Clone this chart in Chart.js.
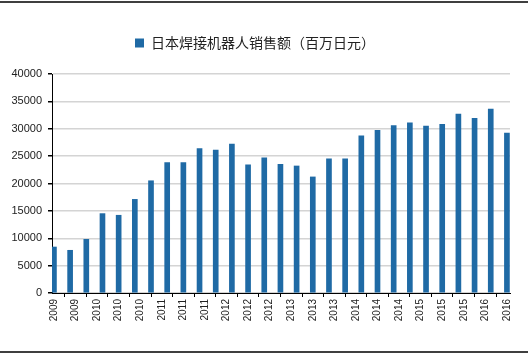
<!DOCTYPE html>
<html>
<head>
<meta charset="utf-8">
<script src="https://cdn.jsdelivr.net/npm/chart.js@4.4.0/dist/chart.umd.min.js"></script>
<style>
  body { margin: 0; background: #fff; }
  #wrap { width: 528px; height: 354px; position: relative; }
</style>
</head>
<body>
<div id="wrap"><canvas id="salesChart" width="528" height="354"></canvas></div>
<script>
// quarterly sales, 2009 - 2016 (29 quarters)
const sales = [8400, 7800, 9800, 14500, 14200, 17100, 20500, 23800, 23800, 26400,
  26100, 27200, 23400, 24700, 23500, 23200, 21200, 24500, 24500, 28700,
  29700, 30600, 31100, 30500, 30800, 32700, 31900, 33600, 29200];

// x-axis labels (every 4 months on the original date axis)
const tickLabels = ['2009', '2009', '2010', '2010', '2010', '2011', '2011', '2011',
  '2012', '2012', '2012', '2013', '2013', '2013', '2014', '2014', '2014',
  '2015', '2015', '2015', '2016', '2016'];

const seriesName = '日本焊接机器人销售额（百万日元）';
const barColor = '#1f6aa5';

const points = sales.map((v, i) => ({ x: i, y: v }));
const tickStep = (sales.length - 1) / (tickLabels.length - 1);

// top and bottom rules of the page
const frameLines = {
  id: 'frameLines',
  afterDraw(chart) {
    const ctx = chart.ctx;
    ctx.save();
    ctx.strokeStyle = '#000';
    ctx.lineWidth = 1.5;
    ctx.beginPath();
    ctx.moveTo(0, 2); ctx.lineTo(528, 2);
    ctx.moveTo(0, 352); ctx.lineTo(528, 352);
    ctx.stroke();
    ctx.restore();
  }
};

// extra gap under the legend
const legendGap = {
  id: 'legendGap',
  beforeUpdate(chart) {
    const lg = chart.legend;
    if (lg && !lg._gapPatched) {
      const fit = lg.fit;
      lg.fit = function () { fit.call(this); this.height += 14; };
      lg._gapPatched = true;
    }
  }
};

new Chart(document.getElementById('salesChart').getContext('2d'), {
  type: 'bar',
  data: {
    datasets: [{
      label: seriesName,
      data: points,
      backgroundColor: barColor,
      barThickness: 5
    }]
  },
  options: {
    responsive: false,
    animation: false,
    layout: { padding: { top: 26, left: 0, right: 18, bottom: 0 } },
    plugins: {
      legend: {
        labels: {
          boxWidth: 9,
          boxHeight: 9,
          padding: 10,
          color: '#222',
          font: { family: 'Noto Sans CJK SC', size: 14 }
        }
      },
      tooltip: { enabled: false }
    },
    scales: {
      x: {
        type: 'linear',
        min: -0.12,
        max: 28.19,
        offset: false,
        afterBuildTicks(axis) {
          axis.ticks = tickLabels.map((t, i) => ({ value: i * tickStep }));
        },
        afterFit(axis) { axis.height = 61; },
        ticks: {
          minRotation: 90,
          maxRotation: 90,
          autoSkip: false,
          padding: 2,
          color: '#222',
          font: { family: 'Liberation Sans', size: 10 },
          callback: (v, i) => tickLabels[i]
        },
        grid: { display: true, drawOnChartArea: false, tickLength: 4, color: '#000' },
        border: { color: '#000', width: 1 }
      },
      y: {
        min: 0,
        max: 40000,
        afterFit(axis) { axis.width = 52; },
        ticks: {
          stepSize: 5000,
          padding: 6,
          color: '#222',
          font: { family: 'Liberation Sans', size: 11 },
          callback: v => String(v)
        },
        grid: {
          color: '#d4d4d4',
          lineWidth: 1.5,
          tickLength: 4,
          tickColor: '#000'
        },
        border: { color: '#000', width: 1 }
      }
    }
  },
  plugins: [frameLines, legendGap]
});
</script>
</body>
</html>
